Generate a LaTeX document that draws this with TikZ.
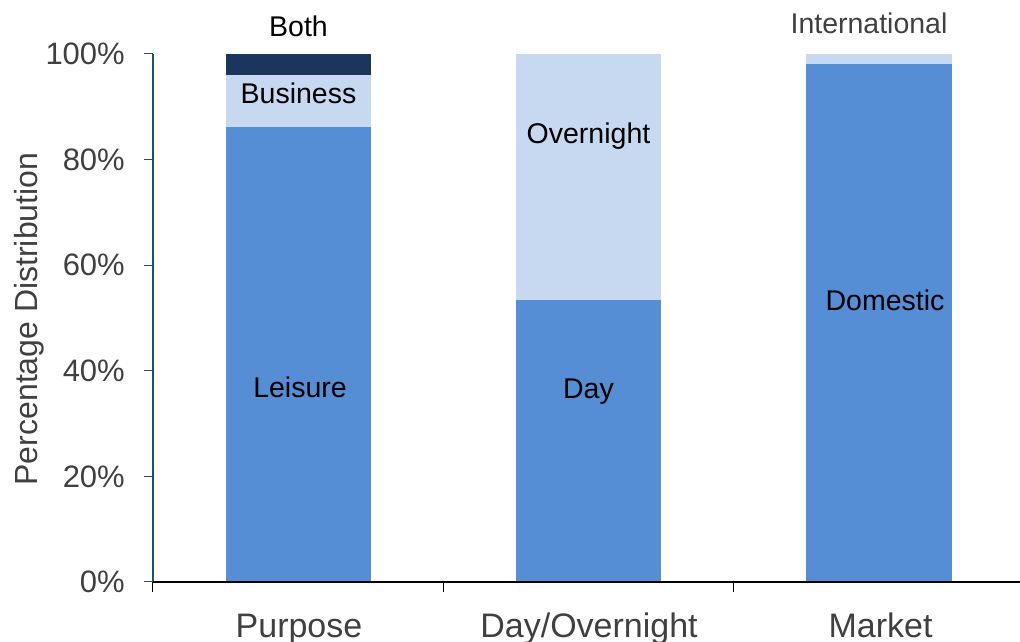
\documentclass[tikz,border=0pt]{standalone}
\usepackage{fontspec}
\setmainfont{Liberation Sans}
\usetikzlibrary{positioning}
\definecolor{barmid}{HTML}{558ED5}
\definecolor{barlight}{HTML}{C6D9F1}
\definecolor{bardark}{HTML}{1A365D}
\definecolor{axisblue}{HTML}{1F4E79}
\definecolor{labelgray}{HTML}{404040}

\begin{document}
\begin{tikzpicture}[x=1pt,y=5.28pt,
  ticklab/.style={anchor=east,inner sep=0pt,text=labelgray,font=\fontsize{31}{31}\selectfont},
  catlab/.style={anchor=base,inner sep=0pt,text=labelgray,font=\fontsize{34}{34}\selectfont},
  seglab/.style={anchor=base,inner sep=0pt,font=\fontsize{28.5}{28.5}\selectfont}]
\useasboundingbox (-153,-11.3636) rectangle (867,110.227);

\fill[barmid] (73,0) rectangle (218,86.2);
\fill[barlight] (73,86.2) rectangle (218,96);
\fill[bardark] (73,96) rectangle (218,100);
\fill[barmid] (363,0) rectangle (508,53.4);
\fill[barlight] (363,53.4) rectangle (508,100);
\fill[barmid] (653,0) rectangle (799,98.1);
\fill[barlight] (653,98.1) rectangle (799,100);

\coordinate (origin) at (0,0);
\coordinate (ytop) at (0,100);
\coordinate (xend) at (867,0);

\draw [axisblue, line width=1.2pt] (origin) -- (ytop);
\foreach \p in {0,20,...,100} {
  \coordinate (yt\p) at (0,\p);
  \draw [axisblue, line width=1pt] (yt\p) -- ++(-9,0);
  \node[ticklab] (lab\p) at (-28,\p) {\p\%};
}
\draw [black, line width=1.2pt] (origin) -- (xend);
\foreach \x in {0,290,580} {
  \coordinate (xt\x) at (\x,0);
  \draw [black, line width=1pt] (xt\x) -- ++(0,-10pt);
}

\node[rotate=90,anchor=base,inner sep=0pt,text=labelgray,font=\fontsize{32}{32}\selectfont] (ytitle) at (-115,49.8) {Percentage Distribution};

\node[seglab] (both) at (145.5,103.4) {Both};
\node[seglab] (business) at (145.5,90.7) {Business};
\node[seglab] (leisure) at (147,35.0) {Leisure};
\node[seglab] (overnight) at (435.5,83.1) {Overnight};
\node[seglab] (day) at (435.5,34.7) {Day};
\node[seglab,text=labelgray] (intl) at (716,103.8) {International};
\node[seglab] (domestic) at (732,51.5) {Domestic};

\node[catlab] (purpose) at (146,-10.42) {Purpose};
\node[catlab] (dayover) at (436,-10.42) {Day/Overnight};
\node[catlab] (market) at (727.5,-10.42) {Market};
\end{tikzpicture}
\end{document}
